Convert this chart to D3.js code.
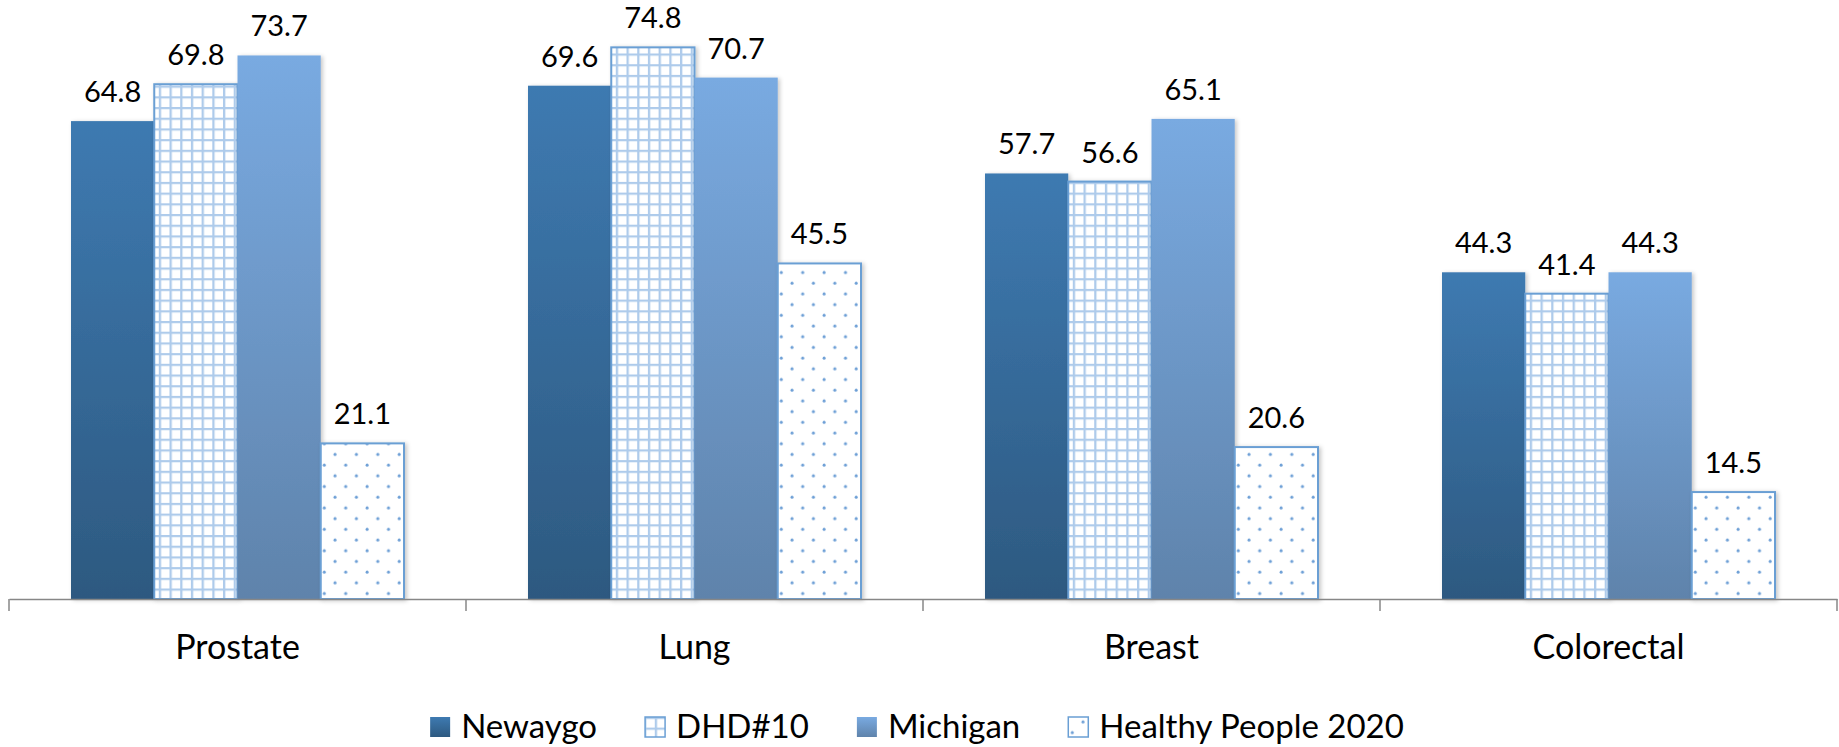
<!DOCTYPE html>
<html>
<head>
<meta charset="utf-8">
<script src="https://cdn.jsdelivr.net/npm/d3@7"></script>
<style>
	body { margin: 0; background: #fff; }
	text { font-family: Lato, "Open Sans", sans-serif; fill: #000; }
</style>
</head>
<body>
<svg id="chart" width="1839" height="747"></svg>
<script>
// Chart data ===========================================================
var categories = ["Prostate", "Lung", "Breast", "Colorectal"];
var seriesNames = ["Newaygo", "DHD#10", "Michigan", "Healthy People 2020"];
var newaygo = [64.8, 69.6, 57.7, 44.3];
var dhd10 = [69.8, 74.8, 56.6, 41.4];
var michigan = [73.7, 70.7, 65.1, 44.3];
var healthyPeople = [21.1, 45.5, 20.6, 14.5];
var seriesValues = [newaygo, dhd10, michigan, healthyPeople];
var fills = ["url(#gradNewaygo)", "url(#patGrid)", "url(#gradMichigan)", "url(#patDots)"];
var strokes = ["none", "#6a9fd4", "none", "#6a9fd4"];

var svg = d3.select("#chart");
var defs = svg.append("defs");

// gradients
function addGradient(id, top, bottom) {
	var g = defs.append("linearGradient")
		.attr("id", id)
		.attr("x1", 0).attr("y1", 0).attr("x2", 0).attr("y2", 1);
	g.append("stop").attr("offset", "0%").attr("stop-color", top);
	g.append("stop").attr("offset", "100%").attr("stop-color", bottom);
}
addGradient("gradNewaygo", "#3e7ab1", "#2d5980");
addGradient("gradMichigan", "#79aae1", "#5f83ab");

// grid pattern
var grid = defs.append("pattern")
	.attr("id", "patGrid")
	.attr("patternUnits", "userSpaceOnUse")
	.attr("width", 10.7).attr("height", 10.7);
grid.append("rect").attr("width", 10.7).attr("height", 10.7).attr("fill", "#fff");
grid.append("path")
	.attr("d", "M0,1H10.7M1,0V10.7")
	.attr("stroke", "#aecbeb")
	.attr("stroke-width", 2.6);

// dotted pattern
var dots = defs.append("pattern")
	.attr("id", "patDots")
	.attr("patternUnits", "userSpaceOnUse")
	.attr("width", 21.4).attr("height", 21.4);
dots.append("rect").attr("width", 21.4).attr("height", 21.4).attr("fill", "#fff");
dots.append("circle").attr("cx", 5).attr("cy", 5).attr("r", 1.5).attr("fill", "#6d9fd6");
dots.append("circle").attr("cx", 15.7).attr("cy", 15.7).attr("r", 1.5).attr("fill", "#6d9fd6");

// soft shadow like the original
var shadow = defs.append("filter").attr("id", "shadow")
	.attr("x", "-10%").attr("y", "-10%").attr("width", "130%").attr("height", "130%");
shadow.append("feDropShadow")
	.attr("dx", 2).attr("dy", 1).attr("stdDeviation", 2)
	.attr("flood-color", "#000").attr("flood-opacity", 0.22);

// Scales ===============================================================
var baseY = 599;
var x0 = d3.scaleBand().domain(categories).range([9, 1837]);
var x1 = d3.scaleBand().domain(seriesNames).range([62, 395]);
var y = d3.scaleLinear().domain([0, 80]).range([baseY, 9]);

// Bars ================================================================
var groups = svg.selectAll("g.cat")
	.data(categories)
	.enter().append("g")
	.attr("class", "cat")
	.attr("transform", function(d) { return "translate(" + x0(d) + ",0)"; });

groups.each(function(cat, ci) {
	var g = d3.select(this);
	seriesNames.forEach(function(s, si) {
		var v = seriesValues[si][ci];
		g.append("rect")
			.attr("x", x1(s))
			.attr("y", y(v))
			.attr("width", x1.bandwidth())
			.attr("height", baseY - y(v))
			.attr("fill", fills[si])
			.attr("stroke", strokes[si])
			.attr("stroke-width", strokes[si] == "none" ? 0 : 2)
			.attr("filter", "url(#shadow)");
		g.append("text")
			.attr("x", x1(s) + x1.bandwidth() / 2)
			.attr("y", y(v) - 19)
			.attr("text-anchor", "middle")
			.attr("font-size", 29)
			.text(v.toFixed(1));
	});
});

// Axis ================================================================
var xAxis = d3.axisBottom(x0).tickSize(0).tickFormat("");
var axisG = svg.append("g")
	.attr("transform", "translate(0," + baseY + ")")
	.call(xAxis);
axisG.select(".domain").attr("stroke", "#878787").attr("stroke-width", 1.5);
var bounds = categories.map(function(c) { return x0(c); }).concat([x0.range()[1]]);
axisG.selectAll("line.sep")
	.data(bounds)
	.enter().append("line")
	.attr("class", "sep")
	.attr("x1", function(d) { return d; })
	.attr("x2", function(d) { return d; })
	.attr("y1", 0).attr("y2", 12)
	.attr("stroke", "#878787").attr("stroke-width", 1.5);

svg.selectAll("text.cat")
	.data(categories)
	.enter().append("text")
	.attr("class", "cat")
	.attr("x", function(d) { return x0(d) + x0.bandwidth() / 2; })
	.attr("y", 659)
	.attr("text-anchor", "middle")
	.attr("font-size", 34)
	.text(function(d) { return d; });

// Legend ==============================================================
var legend = svg.append("g").attr("class", "legend");
var lx = 0;
var swatch = 22, gapText = 10, gapItem = 47;
seriesNames.forEach(function(s, si) {
	var item = legend.append("g").attr("transform", "translate(" + lx + ",0)");
	item.append("rect")
		.attr("x", 1).attr("y", 717)
		.attr("width", swatch - 2).attr("height", swatch - 2)
		.attr("fill", fills[si])
		.attr("stroke", strokes[si])
		.attr("stroke-width", strokes[si] == "none" ? 0 : 1.5);
	var t = item.append("text")
		.attr("x", swatch + gapText)
		.attr("y", 738)
		.attr("font-size", 33)
		.text(s);
	lx += swatch + gapText + t.node().getComputedTextLength() + gapItem;
});
lx -= gapItem;
legend.attr("transform", "translate(" + (1839 / 2 - lx / 2 - 3) + ",0)");
</script>
</body>
</html>
